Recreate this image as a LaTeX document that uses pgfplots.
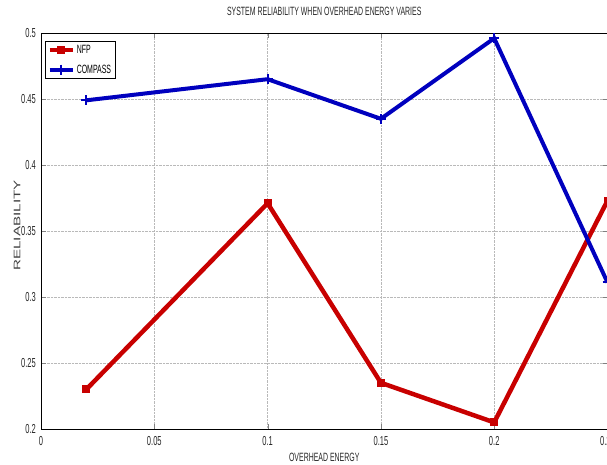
\documentclass[border=0pt]{standalone}
\usepackage{fontspec}
\setmainfont{Liberation Sans}[FakeStretch=0.58]
\newfontfamily\ylabfont{Liberation Sans}[FakeStretch=1.6]
\usepackage{pgfplots}
\pgfplotsset{compat=1.18}
\definecolor{nfpred}{RGB}{200,0,0}
\definecolor{compblue}{RGB}{0,0,190}
\begin{document}
\begin{tikzpicture}
\path[use as bounding box, clip] (0,0) rectangle (607pt,465pt);
\begin{axis}[
  at={(41pt,36pt)}, anchor=south west,
  scale only axis, width=566.5pt, height=396pt,
  xmin=0, xmax=0.25, ymin=0.2, ymax=0.5,
  xtick={0,0.05,0.1,0.15,0.2,0.25},
  ytick={0.2,0.25,0.3,0.35,0.4,0.45,0.5},
  /pgf/number format/assume math mode=true,
  /pgf/number format/.cd, fixed, precision=2, /pgfplots/.cd,
  tick label style={font=\fontsize{13}{15}\selectfont, text=black!85},
  xticklabel style={anchor=center, inner sep=0pt, yshift=-12pt},
  yticklabel style={anchor=east, inner sep=0pt, xshift=-5pt},
  tick align=inside, major tick length=5pt,
  grid=major,
  major grid style={densely dotted, gray!55, line width=0.7pt},
  axis line style={line width=0.6pt},
  title={SYSTEM RELIABILITY WHEN OVERHEAD ENERGY VARIES},
  title style={at={(axis description cs:0.5,1.0404)}, anchor=center, inner sep=0pt, font=\fontsize{12}{14}\selectfont, text=black!85},
  xlabel={OVERHEAD ENERGY},
  xlabel style={at={(axis description cs:0.5,-0.0707)}, anchor=center, inner sep=0pt, font=\fontsize{12}{14}\selectfont, text=black!85},
  ylabel={\ylabfont RELIABILITY},
  ylabel style={at={(axis description cs:-0.0423,0.514)}, anchor=center, inner sep=0pt, font=\fontsize{9.5}{12}\selectfont, text=black!75},
  legend style={at={(axis description cs:0.00706,0.9806)}, anchor=north west, draw=black, line width=0.6pt,
    font=\fontsize{12}{14}\selectfont, inner sep=2pt, row sep=6pt},
  legend cell align=left,
  legend image code/.code={\draw[mark repeat=2,mark phase=2,#1] plot coordinates {(0pt,0pt) (11.5pt,0pt) (23pt,0pt)};},
]
\addplot[color=nfpred, line width=4.5pt, mark=square*, mark size=3.5pt, mark options={solid, line width=1pt}]
  coordinates {(0.02,0.230) (0.1,0.371) (0.15,0.235) (0.2,0.205) (0.25,0.373)};
\addlegendentry{NFP}
\addplot[color=compblue, line width=4pt, mark=+, mark size=5pt, mark options={solid, line width=2pt}]
  coordinates {(0.02,0.449) (0.1,0.465) (0.15,0.435) (0.2,0.496) (0.25,0.311)};
\addlegendentry{COMPASS}
\end{axis}
\end{tikzpicture}
\end{document}
